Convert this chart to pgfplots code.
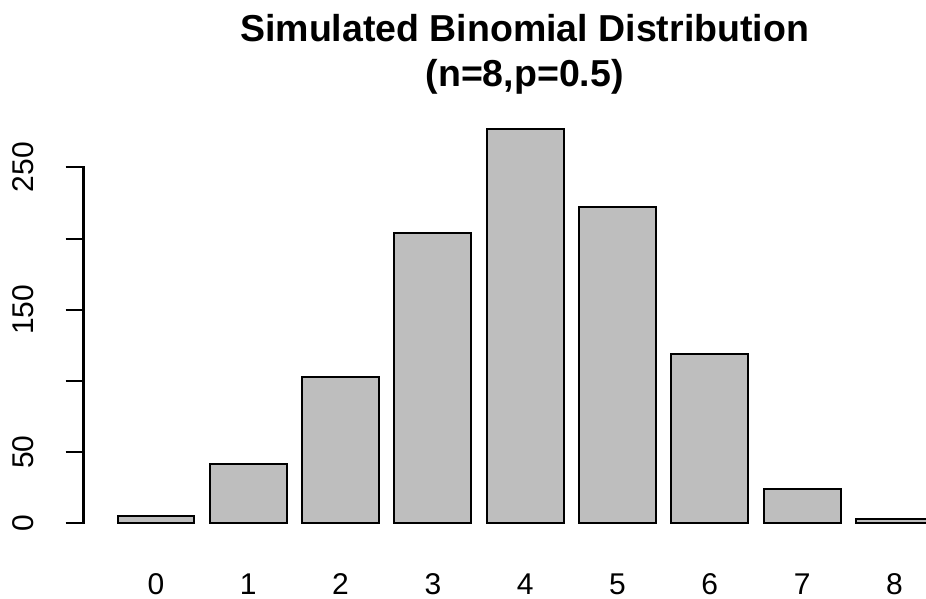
\documentclass[border=0pt]{standalone}
\usepackage{fontspec}
\setmainfont{Liberation Sans}
\usepackage{pgfplots}
\pgfplotsset{compat=1.18}
\definecolor{bargray}{RGB}{190,190,190}
\begin{document}
\begin{tikzpicture}[x=1pt,y=1pt]
\useasboundingbox (0,0) rectangle (926,599);
\begin{axis}[
  at={(83.5pt,59.9pt)}, anchor=south west,
  width=842.5pt, height=426pt, scale only axis,
  xmin=-0.785, xmax=8.342, ymin=-11.08, ymax=288.08,
  clip mode=individual,
  axis line style={draw=none},
  tick pos=left, tick align=outside,
  major tick length=18pt,
  every tick/.style={black, line width=2pt},
  major tick style={black, line width=2pt},
  xtick={0,1,2,3,4,5,6,7,8},
  xticklabels={0,1,2,3,4,5,6,7,8},
  xtick style={draw=none},
  ytick={0,50,100,150,200,250},
  yticklabels={0,50,{},150,{},250},
  ytick style={line width=2pt, black},
  tick label style={font=\fontsize{30}{36}\selectfont},
  yticklabel style={xshift=-32pt, rotate=90, anchor=base},
  xticklabel style={anchor=base, yshift=-37.4pt},
  title={Simulated Binomial Distribution\\(n=8,p=0.5)},
  title style={at={(0.5236,1)}, anchor=south, align=center, inner sep=0pt, yshift=13pt,
    font=\fontsize{37.5}{45}\selectfont\bfseries},
]
\addplot[ybar, bar width=0.8333, fill=bargray, draw=black, line width=2pt]
  coordinates {(0,5) (1,42) (2,103) (3,204) (4,277) (5,222) (6,119) (7,24) (8,3)};
\draw[line width=2pt, line cap=rect] (axis cs:-0.785,0) -- (axis cs:-0.785,250);
\end{axis}
\end{tikzpicture}
\end{document}
